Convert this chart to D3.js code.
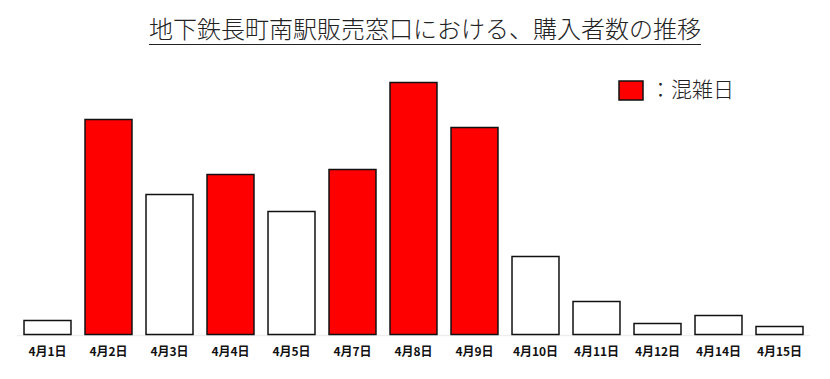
<!DOCTYPE html>
<html>
<head>
  <meta charset="utf-8">
  <title>購入者数の推移</title>
  <style>
    body { margin: 0; background: #fff; }
    text { font-family: "Noto Sans CJK JP", "Noto Sans", sans-serif; }
  </style>
</head>
<body>
  <script src="https://cdn.jsdelivr.net/npm/d3@7"></script>
  <script>
    // data (no y axis, so units are relative)
    const days = ["4月1日", "4月2日", "4月3日", "4月4日", "4月5日", "4月7日", "4月8日",
                  "4月9日", "4月10日", "4月11日", "4月12日", "4月14日", "4月15日"];
    const buyers = [14, 215, 140, 160, 123, 165, 252, 207, 78, 33, 11, 19, 8];
    const crowded = [false, true, false, true, false, true, true, true, false, false, false, false, false];

    const width = 830, height = 379;
    const baseY = 334.5;

    const svg = d3.select("body").append("svg")
      .attr("width", width)
      .attr("height", height);

    const x = d3.scaleBand()
      .domain(days)
      .range([17, 810])
      .paddingInner(0.23)
      .paddingOuter(0.115);

    const y = d3.scaleLinear()
      .domain([0, 260])
      .range([baseY, baseY - 260]);

    // title
    const title = svg.append("text")
      .attr("x", 425)
      .attr("y", 38)
      .attr("text-anchor", "middle")
      .style("font-size", "24px")
      .style("font-weight", 300)
      .style("fill", "#222")
      .text("地下鉄長町南駅販売窓口における、購入者数の推移");
    const tb = title.node().getBBox();
    svg.append("line")
      .attr("x1", tb.x).attr("x2", tb.x + tb.width)
      .attr("y1", 44.5).attr("y2", 44.5)
      .attr("stroke", "#222")
      .attr("stroke-width", 1.2);

    // faint baseline
    svg.append("line")
      .attr("x1", 17).attr("x2", 810)
      .attr("y1", baseY + 1).attr("y2", baseY + 1)
      .attr("stroke", "#eee")
      .attr("stroke-width", 1.5);

    // bars
    svg.append("g").selectAll("rect")
      .data(days)
      .join("rect")
      .attr("x", d => x(d))
      .attr("y", (d, i) => y(buyers[i]))
      .attr("width", x.bandwidth())
      .attr("height", (d, i) => baseY - y(buyers[i]))
      .attr("fill", (d, i) => crowded[i] ? "#ff0000" : "#fff")
      .attr("stroke", "#111")
      .attr("stroke-width", 1.5);

    // x labels
    const xAxis = svg.append("g")
      .attr("transform", `translate(0,${baseY})`)
      .call(d3.axisBottom(x).tickSize(0).tickPadding(13));
    xAxis.select(".domain").remove();
    xAxis.selectAll("text")
      .style("font-family", "'Noto Sans CJK JP', sans-serif")
      .style("font-size", "12px")
      .style("font-weight", "bold")
      .style("fill", "#111");

    // legend
    const legend = svg.append("g");
    legend.append("rect")
      .attr("x", 619).attr("y", 81)
      .attr("width", 24).attr("height", 19)
      .attr("fill", "#ff0000")
      .attr("stroke", "#111")
      .attr("stroke-width", 1.5);
    legend.append("text")
      .attr("x", 650).attr("y", 97)
      .style("font-size", "21px")
      .style("font-weight", 300)
      .style("fill", "#222")
      .text("：混雑日");
  </script>
</body>
</html>
